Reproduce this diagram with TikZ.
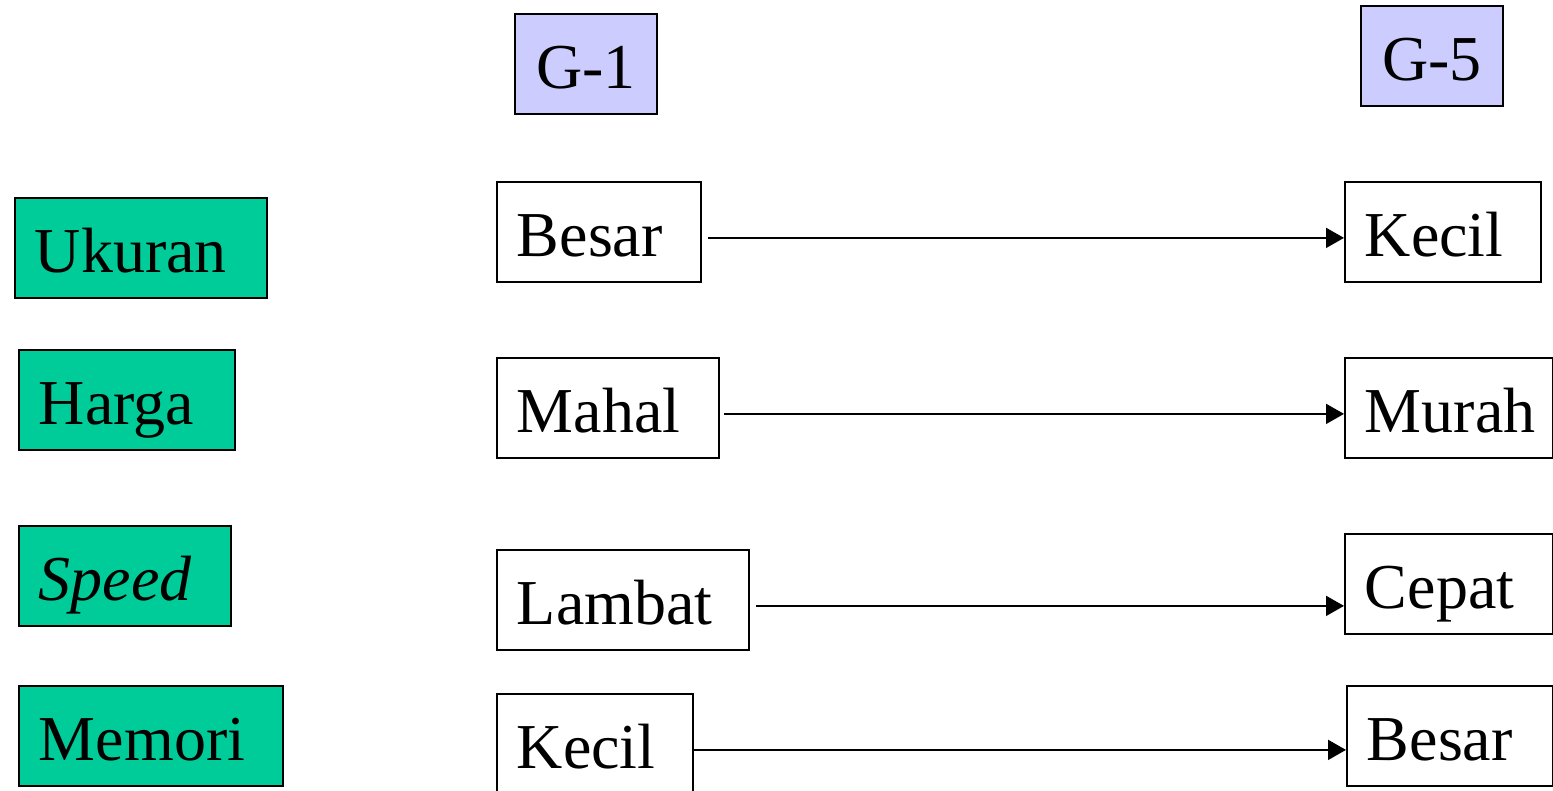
\documentclass[tikz,border=0pt]{standalone}
\usepackage{fontspec}
\setmainfont{Liberation Serif}
\usetikzlibrary{arrows.meta}
\definecolor{attr}{RGB}{0,204,153}
\definecolor{gen}{RGB}{204,204,255}
\begin{document}
\begin{tikzpicture}[x=1pt,y=-1pt,
  box/.style={draw=black, line width=1.8pt, anchor=north west, minimum height=100pt,
    inner ysep=0pt, inner xsep=20pt, text height=49pt, text depth=0pt, align=left,
    font=\fontsize{64}{64}\selectfont},
  attrbox/.style={box, fill=attr},
  genbox/.style={box, fill=gen, align=center, inner xsep=0pt},
  arr/.style={line width=1.8pt, -{Triangle[length=18pt,width=20pt]}}]
\useasboundingbox (0,0) rectangle (1553,790);
% generation headers
\node[genbox, text width=142pt] (g1) at (514,13) {G-1};
\node[genbox, text width=142pt] (g5) at (1360,5) {G-5};
% attributes
\node[attrbox, text width=212pt] (ukuran) at (14,197) {Ukuran};
\node[attrbox, text width=176pt] (harga) at (18,349) {Harga};
\node[attrbox, text width=172pt] (speed) at (18,525) {\textit{Speed}};
\node[attrbox, text width=224pt] (memori) at (18,685) {Memori};
% G-1 values
\node[box, text width=164pt] (besarL) at (496,181) {Besar};
\node[box, text width=182pt] (mahal) at (496,357) {Mahal};
\node[box, text width=212pt] (lambat) at (496,549) {Lambat};
\node[box, text width=156pt] (kecilL) at (496,693) {Kecil};
% G-5 values
\node[box, text width=156pt] (kecilR) at (1344,181) {Kecil};
\node[box, text width=168pt] (murah) at (1344,357) {Murah};
\node[box, text width=168pt] (cepat) at (1344,533) {Cepat};
\node[box, text width=166pt] (besarR) at (1346,685) {Besar};
% arrows
\coordinate (s1) at ([shift={(6pt,-6pt)}]besarL.east);
\coordinate (s2) at ([shift={(4pt,-6pt)}]mahal.east);
\coordinate (s3) at ([shift={(6pt,-6pt)}]lambat.east);
\coordinate (s4) at ([shift={(-2pt,-6pt)}]kecilL.east);
\draw[arr] (s1) -- (s1 -| kecilR.west);
\draw[arr] (s2) -- (s2 -| murah.west);
\draw[arr] (s3) -- (s3 -| cepat.west);
\draw[arr] (s4) -- (s4 -| besarR.west);
\end{tikzpicture}
\end{document}
